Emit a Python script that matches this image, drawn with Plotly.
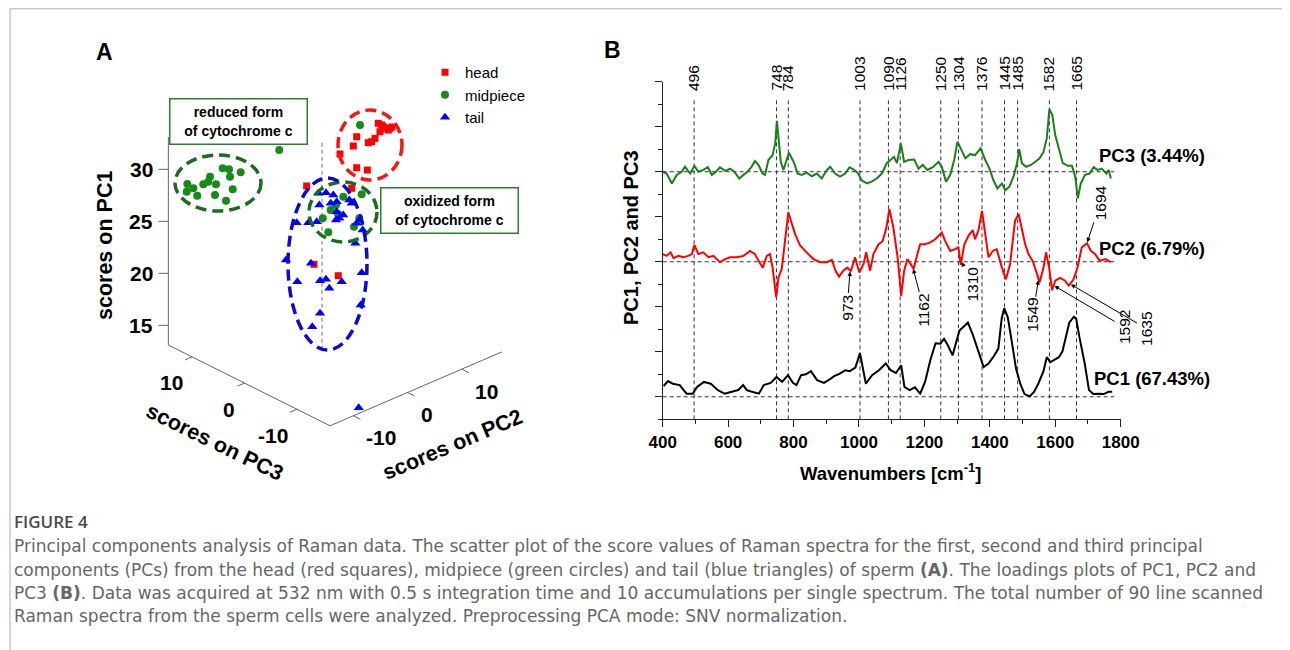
import numpy as np
import plotly.graph_objects as go

W, H = 1290, 650
SHIFT = 8  # the page body offsets the figure by 8 px
FONT = "Arial, Liberation Sans, sans-serif"
CAP_FONT = "DejaVu Sans, sans-serif"
FIG_FONT = "Open Sans, Noto Sans, sans-serif"
CAP_SIZE = 17.0

# ---------------- Panel A data: PCA scores ----------------
head_pc1 = [31.61, 31.31, 30.85, 30.55, 30.73, 30.65, 30.30, 30.11, 31.21, 30.46,
            30.16, 30.24, 28.23, 27.57, 26.46, 28.54, 20.71, 18.61, 31.08, 30.69]
head_pc2 = [12.32, 12.95, 13.56, 14.17, 12.64, 14.48, 11.72, 11.11, 8.34, 7.71,
            10.48, 5.26, 8.34, 10.30, 7.42, -0.89, 0.46, 4.94, 13.25, 14.85]
head_pc3 = [2, 2, 2, 2, 2, 2, 2, 2, 2, 2, 2, 2, 2, 2, 2, 2, 2, 2, 2, 2]

mid_pc1 = [28.51, 27.79, 26.97, 27.82, 28.27, 27.29, 26.31, 25.30, 28.56, 28.20,
           27.45, 27.43, 26.12, 27.85, 27.86, 27.98,
           29.28, 28.75, 28.52, 28.06, 26.54, 26.48, 25.95, 27.84, 28.79, 35.48]
mid_pc2 = [-12.26, -12.37, -10.42, -9.31, -8.07, -6.96, -7.15, -5.12, -5.73, -4.57,
           -4.38, -2.41, -3.88, -11.15, -8.39, 4.71,
           -0.91, 2.48, -3.24, -4.71, 2.04, -3.68, 1.06, -1.89, -2.26, 2.17]
mid_pc3 = [13, 13, 13, 13, 13, 13, 13, 13, 13, 13, 13, 13, 13, 13, 13, 13,
           -5, -5, -5, -5, -5, -5, -5, -5, -5, -5]

tail_pc1 = [29.70, 29.44, 28.92, 28.54, 28.13, 27.78, 27.36, 26.43, 26.58, 26.40,
            28.23, 27.77, 27.29, 27.04, 25.44, 24.34, 23.37, 24.63, 23.28, 20.28,
            22.07, 21.23, 21.12, 20.24, 20.11, 17.21, 18.09, 17.13, 7.42, 27.17, 25.23]
tail_pc2 = [-3.59, -2.17, -0.82, -3.40, -0.19, 2.13, 2.57, 0.29, 1.02, -0.32,
            -1.30, -7.57, -5.43, -3.88, 3.98, 4.60, 3.24, -9.55, -4.94, 4.42,
            -7.46, -3.27, -2.17, 0.73, -1.56, 4.23, -3.27, -4.70, 3.87, -0.19, 3.50]
tail_pc3 = [-3, -3, -3, -3, -3, -3, -3, -3, -3, -3, -3, -3, -3, -3, -3, -3,
            -3, -3, -3, -3, -3, -3, -3, -3, -3, -3, -3, -3, -3, -3, -3]

pc1_ticks = [15, 20, 25, 30]
pc2_ticks = [-10, 0, 10]
pc3_ticks = [10, 0, -10]

# ---------------- Panel B data: loadings ----------------
pc3_wn = [400, 412, 428, 443, 458, 468, 484, 497, 509, 524, 538, 550, 563, 575, 591, 606, 619, 634, 647, 659,
          672, 682, 693, 705, 713, 723, 736, 744, 749, 754, 761, 769, 777, 786, 802, 812, 825, 840, 856, 871,
          886, 902, 912, 927, 942, 958, 971, 985, 998, 1008, 1024, 1039, 1054, 1070, 1085, 1097, 1107, 1116,
          1128, 1138, 1151, 1169, 1182, 1195, 1209, 1226, 1243, 1253, 1266, 1279, 1291, 1301, 1311, 1325,
          1340, 1355, 1372, 1386, 1399, 1411, 1423, 1437, 1447, 1460, 1472, 1483, 1490, 1498, 1511, 1525,
          1539, 1552, 1564, 1574, 1582, 1591, 1600, 1610, 1623, 1638, 1651, 1661, 1669, 1678, 1691, 1705,
          1717, 1729, 1742, 1756, 1763, 1770]
pc3_val = [0.0, -0.04, -0.26, -0.07, 0.0, 0.11, -0.04, 0.13, 0.0, 0.04, 0.10, -0.07, 0.0, 0.10, 0.02, 0.07,
           0.0, -0.15, -0.07, 0.0, 0.11, 0.24, 0.15, -0.04, -0.07, 0.26, 0.37, 0.63, 1.13, 0.78, 0.22, 0.04,
           0.22, 0.42, 0.19, -0.04, -0.07, -0.02, -0.10, -0.04, -0.15, 0.04, 0.11, -0.04, -0.11, -0.04, 0.10,
           0.04, -0.04, -0.19, -0.26, -0.22, -0.15, -0.04, 0.19, 0.26, 0.33, 0.19, 0.63, 0.22, 0.26, 0.27,
           0.07, 0.15, 0.04, 0.10, 0.22, 0.11, -0.22, -0.07, 0.26, 0.67, 0.52, 0.30, 0.39, 0.37, 0.52, 0.26,
           0.07, -0.19, -0.37, -0.26, -0.41, -0.33, -0.11, 0.19, 0.50, 0.19, 0.11, 0.15, 0.22, 0.30, 0.44,
           0.74, 1.39, 1.26, 0.81, 0.52, 0.19, 0.13, 0.13, -0.11, -0.59, -0.26, -0.07, -0.04, 0.10, 0.04,
           0.07, -0.04, 0.04, -0.15]

pc2_wn = [400, 412, 424, 433, 448, 463, 478, 489, 497, 509, 524, 540, 555, 575, 591, 606, 626, 647, 667, 682,
          693, 706, 718, 728, 736, 747, 754, 764, 774, 784, 795, 805, 820, 835, 845, 861, 881, 902, 917, 929,
          939, 952, 965, 975, 988, 1001, 1014, 1022, 1034, 1044, 1060, 1072, 1083, 1093, 1105, 1118, 1129,
          1138, 1148, 1158, 1167, 1177, 1187, 1202, 1218, 1233, 1253, 1263, 1279, 1294, 1304, 1311, 1322,
          1335, 1348, 1355, 1365, 1376, 1386, 1396, 1409, 1421, 1437, 1449, 1462, 1477, 1488, 1498, 1508,
          1518, 1531, 1544, 1552, 1564, 1572, 1582, 1590, 1600, 1615, 1630, 1641, 1656, 1668, 1681, 1697,
          1709, 1722, 1736, 1753, 1770]
pc2_val = [0.17, 0.13, 0.21, 0.08, 0.13, 0.10, 0.13, 0.17, 0.37, 0.17, 0.21, 0.10, 0.13, -0.01, 0.06, 0.10,
           0.10, 0.13, 0.24, 0.17, 0.02, -0.13, 0.13, 0.17, -0.13, -0.79, -0.35, -0.16, 0.47, 1.10, 0.84,
           0.61, 0.36, 0.24, 0.17, 0.06, -0.01, -0.01, 0.04, -0.21, -0.33, -0.20, -0.13, -0.21, 0.10, -0.24,
           -0.05, 0.21, -0.20, 0.17, 0.39, 0.45, 0.73, 1.17, 0.76, 0.10, -0.76, -0.20, 0.06, -0.05, -0.16,
           0.13, 0.39, 0.39, 0.43, 0.50, 0.65, 0.47, 0.24, 0.28, 0.32, -0.07, 0.39, 0.58, 0.70, 0.50, 0.69,
           1.13, 0.61, 0.10, 0.24, 0.28, -0.13, -0.39, -0.05, 0.91, 1.06, 0.76, 0.39, 0.17, 0.02, -0.27,
           -0.46, -0.13, 0.21, -0.16, -0.63, -0.42, -0.36, -0.42, -0.53, -0.39, -0.13, 0.32, 0.41, 0.24,
           0.17, 0.02, 0.06, -0.01]

pc1_wn = [403, 416, 431, 452, 473, 492, 505, 526, 547, 568, 589, 610, 631, 646, 657, 673, 694, 709, 730, 748,
          765, 783, 798, 809, 823, 838, 853, 872, 893, 909, 924, 940, 958, 972, 989, 1003, 1011, 1021, 1040,
          1061, 1082, 1097, 1113, 1129, 1139, 1155, 1171, 1187, 1202, 1218, 1234, 1249, 1260, 1272, 1286,
          1297, 1307, 1323, 1333, 1349, 1365, 1381, 1396, 1412, 1426, 1436, 1444, 1455, 1468, 1480, 1493,
          1506, 1522, 1535, 1548, 1564, 1574, 1585, 1597, 1611, 1622, 1632, 1643, 1657, 1664, 1674, 1690,
          1703, 1716, 1732, 1748, 1763, 1774]
pc1_val = [0.24, 0.35, 0.29, 0.26, 0.07, 0.07, 0.22, 0.33, 0.29, 0.15, 0.07, 0.11, 0.15, 0.26, 0.15, 0.11,
           0.07, 0.26, 0.31, 0.44, 0.33, 0.48, 0.31, 0.26, 0.48, 0.50, 0.57, 0.37, 0.31, 0.38, 0.46, 0.51,
           0.59, 0.57, 0.65, 0.97, 0.66, 0.29, 0.48, 0.59, 0.74, 0.59, 0.53, 0.70, 0.22, 0.15, 0.21, 0.07,
           0.33, 0.81, 1.19, 1.18, 1.29, 1.14, 0.92, 1.18, 1.47, 1.58, 1.65, 1.36, 1.03, 0.66, 0.74, 0.90,
           1.07, 1.73, 1.97, 1.76, 1.18, 0.63, 0.29, 0.06, 0.01, 0.11, 0.29, 0.57, 0.88, 0.77, 0.82, 0.88,
           1.01, 1.29, 1.65, 1.78, 1.73, 1.32, 0.74, 0.15, 0.06, 0.07, 0.06, 0.11, 0.11]

peaks = [496, 748, 784, 1003, 1090, 1126, 1250, 1304, 1376, 1445, 1485, 1582, 1665]
pc2_marks = ["973", "1162", "1310", "1549", "1592", "1635", "1694"]
pc2_mark_wn = [973, 1165, 1313, 1549, 1595, 1645, 1697]
pc_names = ["PC1 (67.43%)", "PC2 (6.79%)", "PC3 (3.44%)"]

BOLD = '<span style="font-weight:bold;font-size:%gpx">' % CAP_SIZE
caption_lines = [
    "Principal components analysis of Raman data. The scatter plot of the score values of Raman spectra for the first, second and third principal",
    "components (PCs) from the head (red squares), midpiece (green circles) and tail (blue triangles) of sperm " + BOLD + "(A)</span>. The loadings plots of PC1, PC2 and",
    "PC3 " + BOLD + "(B)</span>. Data was acquired at 532 nm with 0.5 s integration time and 10 accumulations per single spectrum. The total number of 90 line scanned",
    "Raman spectra from the sperm cells were analyzed. Preprocessing PCA mode: SNV normalization.",
]

# ---------------- helpers (screen px -> paper fraction) ----------------
def px(x):
    return (x - SHIFT) / W

def py(y):
    return 1 - (y - SHIFT) / H

def proj(p1, p2, p3):
    p1 = np.asarray(p1, float); p2 = np.asarray(p2, float); p3 = np.asarray(p3, float)
    return 5.42 * p2 - 5.25 * p3, 10.4 * p1 + 2.33 * p2 + 2.62 * p3

PC1_LIM = (13.1, 33.1)
PC2_LIM = (-14.3, 17.4)
PC3_LIM = (-16.3, 14.5)
X0, Y0 = 322, 486  # screen position of the projection origin

fig = go.Figure()

# ---------------- Panel A ----------------
ax_x, ax_y = [], []
for a, b in [((PC1_LIM[0], PC2_LIM[0], PC3_LIM[1]), (PC1_LIM[1], PC2_LIM[0], PC3_LIM[1])),
             ((PC1_LIM[0], PC2_LIM[0], PC3_LIM[1]), (PC1_LIM[0], PC2_LIM[0], PC3_LIM[0])),
             ((PC1_LIM[0], PC2_LIM[0], PC3_LIM[0]), (PC1_LIM[0], PC2_LIM[1], PC3_LIM[0]))]:
    xa, ya = proj(*a); xb, yb = proj(*b)
    ax_x += [float(xa), float(xb), None]; ax_y += [float(ya), float(yb), None]
tick_ann = []
for v in pc1_ticks:
    x0, y0 = proj(v, PC2_LIM[0], PC3_LIM[1])
    ax_x += [float(x0), float(x0) - 10, None]; ax_y += [float(y0), float(y0), None]
    tick_ann.append(dict(x=float(x0), y=float(y0), text=str(v), xanchor="right", yanchor="middle", xshift=-13))
for v in pc3_ticks:
    x0, y0 = proj(PC1_LIM[0], PC2_LIM[0], v)
    ax_x += [float(x0), float(x0) - 7, None]; ax_y += [float(y0), float(y0) - 3, None]
    tick_ann.append(dict(x=float(x0), y=float(y0), text=str(v), xanchor="right", yanchor="middle", xshift=-7, yshift=-26))
for v in pc2_ticks:
    x0, y0 = proj(PC1_LIM[0], v, PC3_LIM[0])
    ax_x += [float(x0), float(x0) + 7, None]; ax_y += [float(y0), float(y0) - 3.5, None]
    tick_ann.append(dict(x=float(x0), y=float(y0), text=str(v), xanchor="left", yanchor="middle", xshift=11, yshift=-22))
fig.add_trace(go.Scatter(x=ax_x, y=ax_y, mode="lines", line=dict(color="#666", width=1),
                         hoverinfo="skip", showlegend=False, xaxis="x2", yaxis="y2"))
vx, vy = proj([PC1_LIM[0], PC1_LIM[1]], [0, 0], [0, 0])
fig.add_trace(go.Scatter(x=vx, y=vy, mode="lines", line=dict(color="#777", width=1, dash="4px,3px"),
                         hoverinfo="skip", showlegend=False, xaxis="x2", yaxis="y2"))

hx, hy = proj(head_pc1, head_pc2, head_pc3)
mx, my = proj(mid_pc1, mid_pc2, mid_pc3)
tx, ty = proj(tail_pc1, tail_pc2, tail_pc3)
fig.add_trace(go.Scatter(x=hx, y=hy, mode="markers", name="head",
                         marker=dict(symbol="square", size=7, color="#ff0000"), xaxis="x2", yaxis="y2"))
fig.add_trace(go.Scatter(x=mx, y=my, mode="markers", name="midpiece",
                         marker=dict(symbol="circle", size=8, color="#178a17"), xaxis="x2", yaxis="y2"))
fig.add_trace(go.Scatter(x=tx, y=ty, mode="markers", name="tail",
                         marker=dict(symbol="triangle-up", size=9, color="#0000ff"), xaxis="x2", yaxis="y2"))

shapes = []
ell = [(-147, -61, 275, 331, "#1d6b1d"), (16, 80, 306, 376, "#ff1111"),
       (-13, 55, 244, 304, "#1d6b1d"), (-34, 45, 136, 308, "#0a0ad0")]
for x0, x1, y0, y1, c in ell:
    shapes.append(dict(type="circle", xref="x2", yref="y2", x0=x0, x1=x1, y0=y0, y1=y1,
                       line=dict(color=c, width=3.5, dash="11px,6px")))

annotations = []
for t in tick_ann:
    t.update(xref="x2", yref="y2", showarrow=False,
             font=dict(family=FONT, size=21, color="black", weight="bold"))
    annotations.append(t)

def ann_text(text, x, y, size, angle=0, xanchor="center", yanchor="middle", color="black", weight="bold", family=FONT):
    annotations.append(dict(text=text, x=px(x), y=py(y), xref="paper", yref="paper", showarrow=False,
                            xanchor=xanchor, yanchor=yanchor, textangle=angle,
                            font=dict(family=family, size=size, color=color, weight=weight)))

ann_text("scores on PC1", 105, 246, 21.5, angle=-90)
ann_text("scores on PC3", 214, 442, 21.5, angle=26)
ann_text("scores on PC2", 452, 445, 21.5, angle=-23)
ann_text("A", 104, 52, 23)
ann_text("B", 612, 50, 23)

for txt, cx, cy in [("reduced form<br>of cytochrome c", 238.5, 121.7),
                    ("oxidized form<br>of cytochrome c", 449.2, 210.8)]:
    annotations.append(dict(text=txt, x=px(cx), y=py(cy), xref="paper", yref="paper", showarrow=False,
                            xanchor="center", yanchor="middle", width=132, height=40, borderpad=2,
                            bordercolor="#2e7d32", borderwidth=1.5, bgcolor="white", align="center",
                            font=dict(family=FONT, size=14, color="black", weight="bold")))

# ---------------- Panel B ----------------
OFF = {"PC1": 0.5, "PC2": 3.5, "PC3": 5.5}
for p in peaks:
    shapes.append(dict(type="line", xref="x", yref="y", x0=p, x1=p, y0=0, y1=7.13, layer="below",
                       line=dict(color="#333", width=1, dash="4px,3px")))
for k in OFF:
    shapes.append(dict(type="line", xref="x", yref="y", x0=400, x1=1780, y0=OFF[k], y1=OFF[k], layer="below",
                       line=dict(color="#333", width=1, dash="4px,3px")))

fig.add_trace(go.Scatter(x=pc1_wn, y=np.array(pc1_val) + OFF["PC1"], mode="lines",
                         line=dict(color="black", width=2), showlegend=False, hoverinfo="skip"))
fig.add_trace(go.Scatter(x=pc2_wn, y=np.array(pc2_val) + OFF["PC2"], mode="lines",
                         line=dict(color="#ff0000", width=2), showlegend=False, hoverinfo="skip"))
fig.add_trace(go.Scatter(x=pc3_wn, y=np.array(pc3_val) + OFF["PC3"], mode="lines",
                         line=dict(color="#1a7f1a", width=2), showlegend=False, hoverinfo="skip"))

for p in peaks:
    annotations.append(dict(text=str(p), x=p, y=py(93), xref="x", yref="paper", showarrow=False,
                            xanchor="center", yanchor="bottom", textangle=-90,
                            font=dict(family=FONT, size=15.5, color="black")))

arrow_offsets = [(-3, 37), (11, 42), (11, 23), (-6, 36), (71, 42), (77, 45), (13, -40)]
pc2_interp = lambda w: float(np.interp(w, pc2_wn, pc2_val)) + OFF["PC2"]
for lab, w, (dx, dy) in zip(pc2_marks, pc2_mark_wn, arrow_offsets):
    annotations.append(dict(text=lab, x=w, y=pc2_interp(w), xref="x", yref="y", showarrow=True,
                            ax=dx, ay=dy, textangle=-90, arrowhead=2, arrowsize=0.9, arrowwidth=1,
                            arrowcolor="black", standoff=1,
                            font=dict(family=FONT, size=15.5, color="black")))

for name, (x, y) in zip(pc_names, [(1092, 378), (1097, 248), (1097, 155)]):
    ann_text(name, x, y, 18.5, xanchor="left")

ann_text("PC1, PC2 and PC3", 631, 238, 20, angle=-90)
ann_text("Wavenumbers [cm<sup>-1</sup>]", 891, 472, 18.5)

# ---------------- Caption ----------------
ann_text("FIGURE 4", 12, 521, 17, xanchor="left", color="#4a4a4a", weight=600, family=FIG_FONT)
for i, line in enumerate(caption_lines):
    ann_text(line, 12, 546.4 + 23.3 * i, CAP_SIZE, xanchor="left", color="#666666", weight="normal",
             family=CAP_FONT)

# figure frame (top and left rules)
shapes.append(dict(type="line", xref="paper", yref="paper", x0=px(10), x1=1, y0=py(8.8), y1=py(8.8),
                   line=dict(color="#c8c8c8", width=1.5)))
shapes.append(dict(type="line", xref="paper", yref="paper", x0=px(10), x1=px(10), y0=0, y1=py(8.8),
                   line=dict(color="#c8c8c8", width=1.5)))

axis_style = dict(showgrid=False, zeroline=False, showline=True, linecolor="#222", linewidth=1.3,
                  ticks="outside", tickcolor="#222", tickwidth=1.3, ticklen=7, automargin=False)

fig.update_layout(
    width=W, height=H, autosize=False,
    margin=dict(l=0, r=0, t=0, b=0, pad=0, autoexpand=False),
    paper_bgcolor="white", plot_bgcolor="rgba(0,0,0,0)",
    xaxis=dict(domain=[px(662.7), px(1120.7)], range=[400, 1800], anchor="y", tick0=400, dtick=200,
               tickfont=dict(family=FONT, size=17, color="black", weight="bold"),
               minor=dict(dtick=100, ticks="outside", ticklen=4, tickcolor="#222", showgrid=False),
               **axis_style),
    yaxis=dict(domain=[py(419.3), py(81.7)], range=[0, 7.5], anchor="x", tick0=0.5, dtick=1,
               showticklabels=False,
               minor=dict(dtick=0.5, tick0=0, ticks="outside", ticklen=4, tickcolor="#222", showgrid=False),
               **axis_style),
    # panel A: 1 data unit = 1 px, projection origin at screen (X0, Y0)
    xaxis2=dict(domain=[0, 0.5], range=[SHIFT - X0, SHIFT - X0 + W * 0.5], visible=False, anchor="y2",
                automargin=False),
    yaxis2=dict(domain=[0, 1], range=[Y0 - SHIFT - H, Y0 - SHIFT], visible=False, anchor="x2",
                automargin=False),
    legend=dict(x=px(425), y=py(56), xanchor="left", yanchor="top", bgcolor="rgba(0,0,0,0)",
                font=dict(family=FONT, size=15, color="black"), tracegroupgap=0, itemsizing="trace"),
    shapes=shapes,
    annotations=annotations,
)

fig.write_html("out.html", config={"responsive": False})
